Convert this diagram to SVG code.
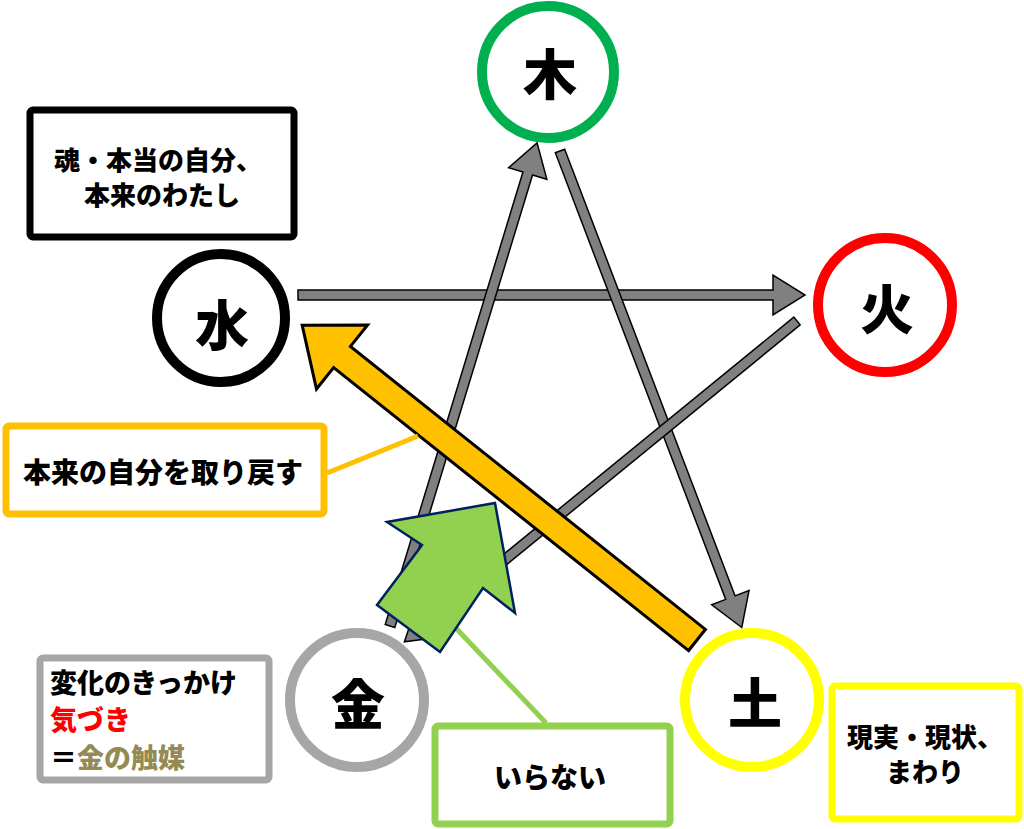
<svg xmlns="http://www.w3.org/2000/svg" width="1024" height="829" viewBox="0 0 1024 829">
<style>
.t{font-family:"Noto Sans CJK JP","Noto Sans",sans-serif;font-weight:900;fill:#000}
.big{font-size:54px;text-anchor:middle}
.lbl{font-size:27px}
.ring{fill:#fff;stroke-width:10}
.box{fill:#fff;stroke-width:7}
.ga{fill:#808080;stroke:#000;stroke-width:1.5;stroke-linejoin:miter}
</style>
<rect width="1024" height="829" fill="#fff"/>
<g id="connectors">
  <polygon class="ga" transform="translate(298,295)" points="0,-5 475,-5 475,-20 507,0 475,20 475,5 0,5"/>
  <polygon class="ga" transform="translate(390,626) rotate(-73.07)" points="0,-5 473,-5 473,-20 505,0 473,20 473,5 0,5"/>
  <polygon class="ga" transform="translate(560,151) rotate(69.12)" points="0,-5 478,-5 478,-20 510,0 478,20 478,5 0,5"/>
  <polygon class="ga" transform="translate(797,321) rotate(140.75)" points="0,-5 475,-5 475,-20 507,0 475,20 475,5 0,5"/>
  <polygon transform="translate(697,640) rotate(218.57)" points="0,-13.5 454,-13.5 454,-41 505,0 454,41 454,13.5 0,13.5" fill="#FFC000" stroke="#000" stroke-width="3"/>
  <line x1="327" y1="473" x2="418" y2="436" stroke="#FFC000" stroke-width="5"/>
  <line x1="546" y1="723" x2="452" y2="624" stroke="#92D050" stroke-width="5"/>
  <polygon points="495,503 515,613 483,588 440,652 377,605 422,545 387,522" fill="#92D050" stroke="#002060" stroke-width="2.5"/>
</g>
<g id="node-wood">
  <circle class="ring" cx="548" cy="72" r="66" stroke="#00B050"/>
  <text class="t big" x="550" y="95">木</text>
</g>
<g id="node-water">
  <circle class="ring" cx="221" cy="318" r="64" stroke="#000"/>
  <text class="t big" x="222" y="346">水</text>
</g>
<g id="node-fire">
  <circle class="ring" cx="885" cy="305" r="67" stroke="#FF0000"/>
  <text class="t big" x="887" y="330">火</text>
</g>
<g id="node-metal">
  <circle class="ring" cx="357" cy="700" r="67" stroke="#A6A6A6"/>
  <text class="t big" x="358" y="725">金</text>
</g>
<g id="node-earth">
  <circle class="ring" cx="752" cy="700" r="67" stroke="#FFFF00"/>
  <text class="t big" x="755" y="724">土</text>
</g>
<g id="box-soul">
  <rect class="box" x="30" y="110" width="264" height="127" rx="3" stroke="#000"/>
  <text class="t lbl" text-anchor="middle" style="font-size:26px"><tspan x="158" y="170">魂・本当の自分、</tspan><tspan x="162" y="205">本来のわたし</tspan></text>
</g>
<g id="box-restore">
  <rect class="box" x="6" y="426" width="318" height="88" rx="3" stroke="#FFC000" stroke-width="6"/>
  <text class="t lbl" text-anchor="middle" x="163" y="483" style="font-size:28px">本来の自分を取り戻す</text>
</g>
<g id="box-trigger">
  <rect class="box" x="40" y="658" width="229" height="122" rx="3" stroke="#A6A6A6"/>
  <text class="t lbl" style="font-size:27px"><tspan x="50" y="693">変化のきっかけ</tspan><tspan x="50" y="730" fill="#FF0000">気づき</tspan><tspan x="50" y="768">＝</tspan><tspan fill="#948A54">金の触媒</tspan></text>
</g>
<g id="box-unneeded">
  <rect class="box" x="435" y="726" width="235" height="98" rx="3" stroke="#92D050"/>
  <text class="t lbl" text-anchor="middle" x="550" y="788" style="font-size:28px">いらない</text>
</g>
<g id="box-reality">
  <rect class="box" x="832" y="686" width="187" height="133" rx="3" stroke="#FFFF00" stroke-width="8"/>
  <text class="t lbl" text-anchor="middle" style="font-size:26px"><tspan x="925" y="747">現実・現状、</tspan><tspan x="925" y="782">まわり</tspan></text>
</g>
</svg>
